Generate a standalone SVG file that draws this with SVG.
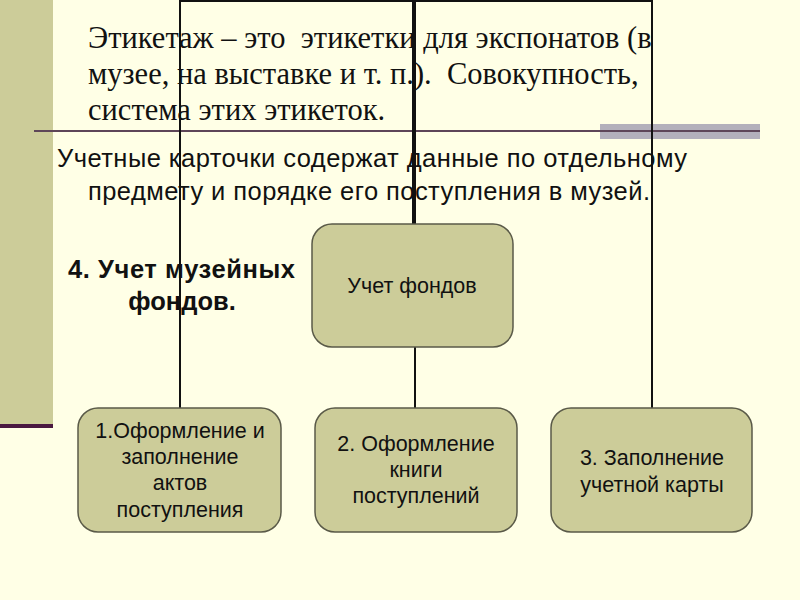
<svg xmlns="http://www.w3.org/2000/svg" width="800" height="600" viewBox="0 0 800 600">
<style>
.box{fill:#cccc99;stroke:#5a5a48;stroke-width:1.5}
.bt{font-family:"Liberation Sans",Arial,sans-serif;font-size:21.5px;fill:#111;text-anchor:middle}
.ser{font-family:"Liberation Serif","Times New Roman",serif;font-size:30.5px;fill:#111}
.sans{font-family:"Liberation Sans",Arial,sans-serif;font-size:25.5px;fill:#111}
.con{stroke:#111;stroke-width:2;fill:none}
</style>
<rect width="800" height="600" fill="#ffffe6"/>
<rect x="0" y="0" width="53" height="427" fill="#cccc99"/>
<rect x="0" y="424" width="53" height="4" fill="#4a1840"/>
<rect x="600" y="124" width="160" height="15" fill="#b3b0bb"/>
<line x1="34" y1="131" x2="760" y2="131" stroke="#5e4658" stroke-width="2"/>
<g id="connectors">
<polyline class="con" points="180,408 180,1 652,1 652,408"/>
<line x1="414" y1="0" x2="414" y2="224" stroke="#111" stroke-width="4"/>
<line class="con" x1="415" y1="347" x2="415" y2="408"/>
</g>
<g id="title">
<text class="ser" x="88" y="48" xml:space="preserve">Этикетаж – это  этикетки для экспонатов (в</text>
<text class="ser" x="88" y="84" xml:space="preserve">музее, на выставке и т. п.).  Совокупность,</text>
<text class="ser" x="88" y="120">система этих этикеток.</text>
</g>
<g id="subtitle">
<text class="sans" x="57" y="167" textLength="630" lengthAdjust="spacing">Учетные карточки содержат данные по отдельному</text>
<text class="sans" x="88" y="200" textLength="562" lengthAdjust="spacing">предмету и порядке его поступления в музей.</text>
</g>
<g id="heading">
<text class="sans" x="68" y="278" font-weight="bold" font-size="24.5" textLength="227" lengthAdjust="spacing">4. Учет музейных</text>
<text class="sans" x="182" y="310" font-weight="bold" text-anchor="middle" font-size="24.5">фондов.</text>
</g>
<g id="n0">
<rect class="box" x="312" y="224" width="201" height="123" rx="20"/>
<text class="bt" x="412" y="293">Учет фондов</text>
</g>
<g id="n1">
<rect class="box" x="78" y="408" width="203" height="124" rx="20"/>
<text class="bt" x="180" y="438">1.Оформление и</text>
<text class="bt" x="180" y="464">заполнение</text>
<text class="bt" x="180" y="490">актов</text>
<text class="bt" x="180" y="517">поступления</text>
</g>
<g id="n2">
<rect class="box" x="315" y="408" width="202" height="124" rx="20"/>
<text class="bt" x="416" y="451">2. Оформление</text>
<text class="bt" x="416" y="477">книги</text>
<text class="bt" x="416" y="503">поступлений</text>
</g>
<g id="n3">
<rect class="box" x="551" y="408" width="201" height="124" rx="20"/>
<text class="bt" x="652" y="465">3. Заполнение</text>
<text class="bt" x="652" y="492">учетной карты</text>
</g>
</svg>
